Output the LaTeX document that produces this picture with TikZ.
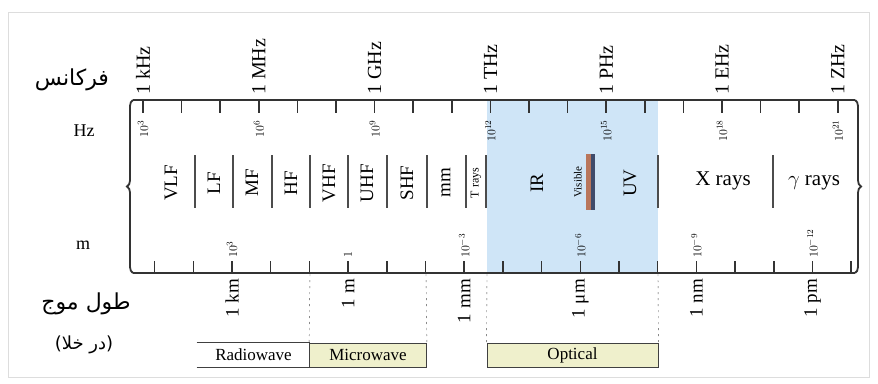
\documentclass[tikz,border=0pt]{standalone}
\usepackage{fontspec}
\setmainfont{Liberation Serif}
\newfontfamily\arabicfont[Script=Arabic]{DejaVu Sans}
\TeXXeTstate=1
\usetikzlibrary{positioning, decorations.pathreplacing}
\definecolor{optblue}{HTML}{CFE5F7}
\definecolor{bandyellow}{HTML}{EFF0CC}
\definecolor{framegray}{HTML}{DDDDDD}
\definecolor{visred}{HTML}{B9765C}
\definecolor{visblue}{HTML}{3F4B6B}

\begin{document}
\begin{tikzpicture}[x=1pt, y=-1pt,
    axisline/.style={line width=1.8pt, draw=black!80},
    tick/.style={line width=1.5pt, draw=black!80},
    sep/.style={line width=1.8pt, draw=black!70},
    freq/.style={rotate=90, anchor=west, inner sep=1pt, font=\fontsize{20}{20}\selectfont},
    wave/.style={rotate=90, anchor=east, inner sep=1pt, font=\fontsize{19}{19}\selectfont},
    expo/.style={rotate=90, inner sep=1pt, font=\fontsize{13}{13}\selectfont},
    band/.style={rotate=90, inner sep=1pt, font=\fontsize{19}{19}\selectfont},
    region/.style={draw=black!75, thick, fill=bandyellow, minimum height=24pt, inner sep=0pt, font=\fontsize{17}{17}\selectfont},
    guide/.style={black!70, thin, dash pattern=on 2pt off 4pt},
    title/.style={font=\arabicfont\fontsize{22}{22}\selectfont}
]
    % Frame
    \useasboundingbox[fill=white] (0,0) rectangle (878,383);
    \draw[framegray, line width=1pt] (8,12) rectangle (869,377);

    % Optical band
    \fill[optblue] (487,101) rectangle (658,272);

    % Scale
    \draw[axisline] (133,100) -- (855,100);
    \draw[axisline] (133,273) -- (855,273);
    \draw[axisline, decorate, decoration={brace, amplitude=6pt}] (133,273) -- (133,100);
    \draw[axisline, decorate, decoration={brace, amplitude=6pt}] (855,100) -- (855,273);
    \foreach \k in {0,...,18}
        \draw[tick] (143+38.6*\k,100) -- ++(0,13);
    \foreach \k in {-2,...,16}
        \draw[tick] (232+38.7*\k,273) -- ++(0,-12);

    % Frequency labels
    \foreach \lab [count=\i from 0] in {1 kHz, 1 MHz, 1 GHz, 1 THz, 1 PHz, 1 EHz, 1 ZHz} {
        \pgfmathtruncatemacro{\ex}{3*\i+3}
        \node[freq] (f\i) at (143+115.8*\i,96) {\lab};
        \node[expo, anchor=east] (fe\i) at (143+115.8*\i,119) {$10^{\ex}$};
    }
    \node[font=\fontsize{18}{18}\selectfont] (hz) at (84,131) {Hz};

    % Wavelength labels
    \foreach \lab/\ex [count=\i from 0] in {1 km/10^{3}, 1 m/1, 1 mm/10^{-3}, 1 μm/10^{-6}, 1 nm/10^{-9}, 1 pm/10^{-12}} {
        \node[wave] (w\i) at (232+116.1*\i,278) {\lab};
        \node[expo, anchor=west] (we\i) at (232+116.1*\i,259) {$\ex$};
    }
    \node[font=\fontsize{18}{18}\selectfont] (m) at (83,245) {m};

    % Bands
    \foreach \x in {195, 233, 272, 310, 348, 387, 427, 466, 486, 658, 773}
        \draw[sep] (\x,155) -- (\x,208);
    \foreach \lab/\x in {VLF/171, LF/214, MF/252, HF/291, VHF/329, UHF/367, SHF/407, mm/446, IR/537, UV/630}
        \node[band] (b\lab) at (\x,183) {\lab};
    \node[band, font=\fontsize{12}{12}\selectfont] (trays) at (476,183) {T rays};
    \fill[visred] (586,154) rectangle (591,210);
    \fill[visblue] (591,154) rectangle (595,210);
    \node[band, font=\fontsize{11}{11}\selectfont] (visible) at (578,182) {Visible};
    \node[font=\fontsize{21}{21}\selectfont] (xrays) at (723,181) {X rays};
    \node[font=\fontsize{21}{21}\selectfont] (grays) at (814,183) {$\gamma$ rays};

    % Regions
    \node[region, draw=none, fill=white, minimum width=113pt] (radio) at (253.5,355) {Radiowave};
    \draw[thick, black!75] (radio.north west) -- (radio.north east);
    \draw[thick, black!75] (radio.south west) -- (radio.south east);
    \node[region, minimum width=117pt] (micro) at (368,355) {Microwave};
    \node[region, minimum width=171pt] (optic) at (572.5,355) {Optical};
    \draw[guide] (310,274) -- (micro.north west);
    \draw[guide] (426,274) -- (micro.north east);
    \draw[guide] (487,274) -- (optic.north west);
    \draw[guide] (658,274) -- (optic.north east);

    % Titles
    \node[title] (freqtitle) at (72,80) {\beginR فرکانس\endR};
    \node[title] (wavetitle) at (86,304) {\beginR طول موج\endR};
    \node[title, font=\arabicfont\fontsize{18}{18}\selectfont] (vacuum) at (84,345) {\beginR (در خلا)\endR};
\end{tikzpicture}
\end{document}
